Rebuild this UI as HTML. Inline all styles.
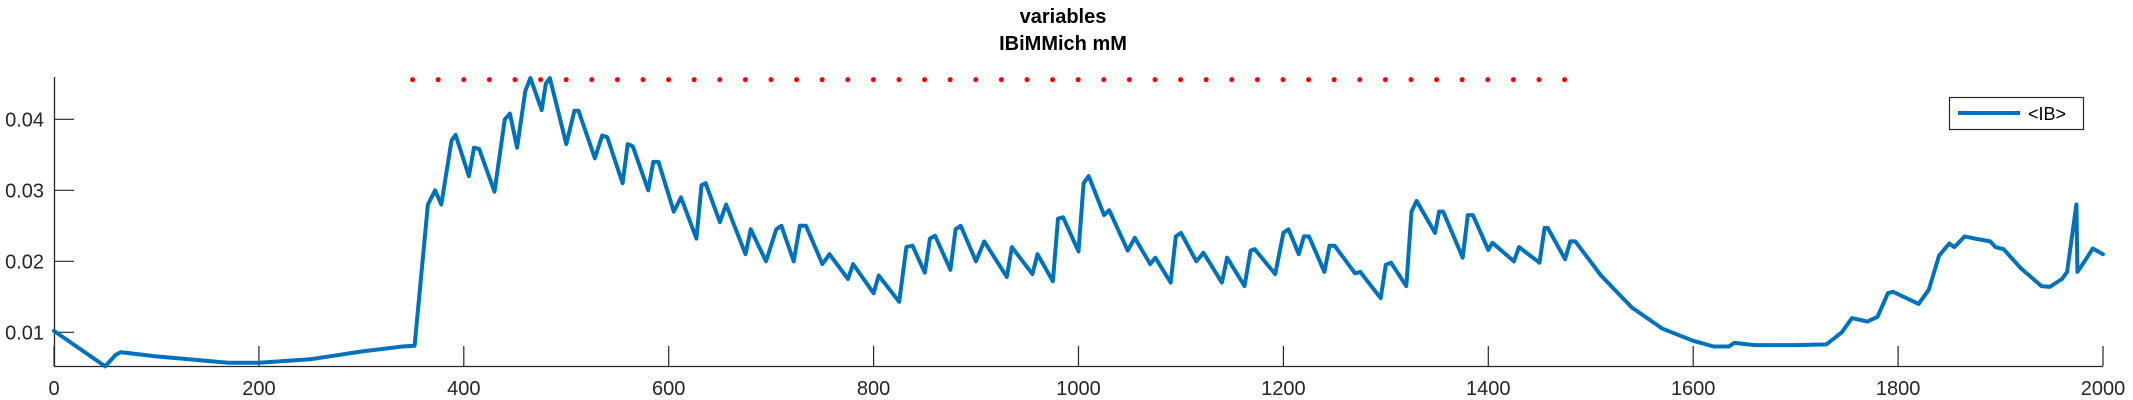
<!DOCTYPE html>
<html><head><meta charset="utf-8"><style>
html,body{margin:0;padding:0;background:#fff;width:2133px;height:400px;overflow:hidden}
svg{display:block;font-family:"Liberation Sans",Arial,sans-serif}
</style></head><body>
<svg id="chart" width="2133" height="400" viewBox="0 0 2133 400" xmlns="http://www.w3.org/2000/svg">
<text x="1063" y="23" text-anchor="middle" font-size="20" font-weight="bold" fill="#000">variables</text>
<text x="1063" y="50" text-anchor="middle" font-size="20" font-weight="bold" fill="#000">IBiMMich mM</text>
<g id="axes"></g>
<g id="marks"></g>
<g>
<rect x="1949.5" y="97.5" width="134" height="32" fill="#fff" stroke="#262626" stroke-width="1.2"/>
<line x1="1958" y1="113" x2="2020" y2="113" stroke="#0072BD" stroke-width="4"/>
<text x="2028" y="120" font-size="18" fill="#000">&lt;IB&gt;</text>
</g>
</svg>
<script>
const xTicks=[0,200,400,600,800,1000,1200,1400,1600,1800,2000];
const yTicks=[0.01,0.02,0.03,0.04];
const yTickLabels=["0.01","0.02","0.03","0.04"];
const refX=[350,1480];
const refY=0.04558;
const ibX=[0,50,60,65,100,170,200,250,300,340,352,365,372,378,388,392,405,410,415,430,440,445,452,460,465,476,480,484,500,508,512,528,535,540,555,560,565,580,585,590,605,612,627,632,636,650,656,675,680,695,705,710,722,728,734,750,757,775,780,800,805,825,832,838,850,855,860,875,880,885,900,908,930,935,955,960,975,980,985,1000,1005,1010,1025,1030,1048,1055,1070,1075,1090,1095,1100,1115,1122,1140,1145,1162,1168,1172,1192,1200,1205,1215,1220,1225,1240,1245,1250,1270,1275,1295,1300,1305,1320,1325,1330,1348,1352,1356,1375,1380,1385,1400,1404,1425,1430,1450,1455,1458,1475,1480,1485,1510,1540,1570,1600,1620,1635,1640,1660,1700,1730,1745,1755,1770,1780,1790,1795,1820,1830,1840,1850,1855,1865,1875,1890,1895,1903,1920,1940,1948,1960,1965,1975,1982,1990,1974,2000];
const ibY=[0.0102,0.0052,0.0068,0.0072,0.0066,0.0057,0.0057,0.0062,0.0073,0.0080,0.0081,0.028,0.030,0.028,0.037,0.0378,0.032,0.036,0.0358,0.0298,0.040,0.0408,0.036,0.044,0.0458,0.0413,0.045,0.0458,0.0365,0.0412,0.0412,0.0345,0.0377,0.0375,0.031,0.0365,0.0362,0.030,0.034,0.034,0.027,0.029,0.0232,0.0307,0.031,0.0255,0.028,0.021,0.0245,0.020,0.0245,0.025,0.020,0.025,0.025,0.0196,0.021,0.0175,0.0196,0.0155,0.018,0.0143,0.022,0.0222,0.0184,0.0232,0.0236,0.0188,0.0245,0.025,0.020,0.0228,0.0178,0.022,0.0182,0.021,0.0172,0.026,0.0262,0.0214,0.031,0.032,0.0265,0.0272,0.0215,0.0233,0.0196,0.0205,0.017,0.0235,0.024,0.0200,0.0212,0.0170,0.0205,0.0165,0.0215,0.0217,0.0182,0.024,0.0245,0.0210,0.0235,0.0235,0.0185,0.0222,0.0222,0.0183,0.0185,0.0148,0.0195,0.0198,0.0165,0.027,0.0285,0.0240,0.0270,0.0270,0.0205,0.0265,0.0265,0.0216,0.0226,0.020,0.0220,0.0198,0.0247,0.0247,0.0203,0.0228,0.0228,0.018,0.0135,0.0105,0.0088,0.0080,0.0080,0.0085,0.0082,0.0082,0.0083,0.0100,0.0120,0.0115,0.0122,0.0155,0.0157,0.0140,0.0160,0.0208,0.0225,0.0220,0.0235,0.0232,0.0228,0.0220,0.0217,0.0190,0.0165,0.0164,0.0175,0.0185,0.0185,0.0200,0.0218,0.0280,0.0210];
// fix ordering: peak at 1974 belongs before 2000
const pts=ibX.map((x,i)=>[x,ibY[i]]).sort((a,b)=>a[0]-b[0]);
function xs(d){return 54+d*(2103-54)/2000;}
function ys(v){return 366.3-(v-0.00521)*7100;}
const NS="http://www.w3.org/2000/svg";
const axes=document.getElementById('axes');
const marks=document.getElementById('marks');
function mk(tag,attrs,parent){const e=document.createElementNS(NS,tag);for(const k in attrs)e.setAttribute(k,attrs[k]);parent.appendChild(e);return e;}
let e=mk('line',{x1:54,y1:366.5,x2:2103,y2:366.5,stroke:'#262626','stroke-width':1.3},axes);


e=mk('line',{x1:54.5,y1:77,x2:54.5,y2:366.5,stroke:'#262626','stroke-width':1.3},axes);


xTicks.forEach(t=>{
 const x=xs(t);
 let l=mk('line',{x1:x,y1:366,x2:x,y2:346,stroke:'#262626','stroke-width':1.2},axes);
 
 
 let tx=mk('text',{x:x,y:395,'text-anchor':'middle','font-size':20,fill:'#262626'},axes);
 tx.textContent=String(t);
 
 
});
yTicks.forEach((t,i)=>{
 const y=ys(t);
 let l=mk('line',{x1:54,y1:y,x2:74,y2:y,stroke:'#262626','stroke-width':1.2},axes);
 
 
 let tx=mk('text',{x:44,y:y+7,'text-anchor':'end','font-size':20,fill:'#262626'},axes);
 tx.textContent=yTickLabels[i];
 
 
});
let r=mk('line',{x1:xs(refX[0]),y1:ys(refY),x2:xs(refX[1]),y2:ys(refY),stroke:'#FF0000','stroke-width':5,'stroke-dasharray':'0 25.6','stroke-linecap':'round'},marks);


let d=pts.map((p,i)=>(i?'L':'M')+xs(p[0]).toFixed(1)+','+ys(p[1]).toFixed(1)).join(' ');
let p=mk('path',{d:d,fill:'none',stroke:'#0072BD','stroke-width':4,'stroke-linejoin':'round','stroke-linecap':'round'},marks);


</script>
</body></html>
